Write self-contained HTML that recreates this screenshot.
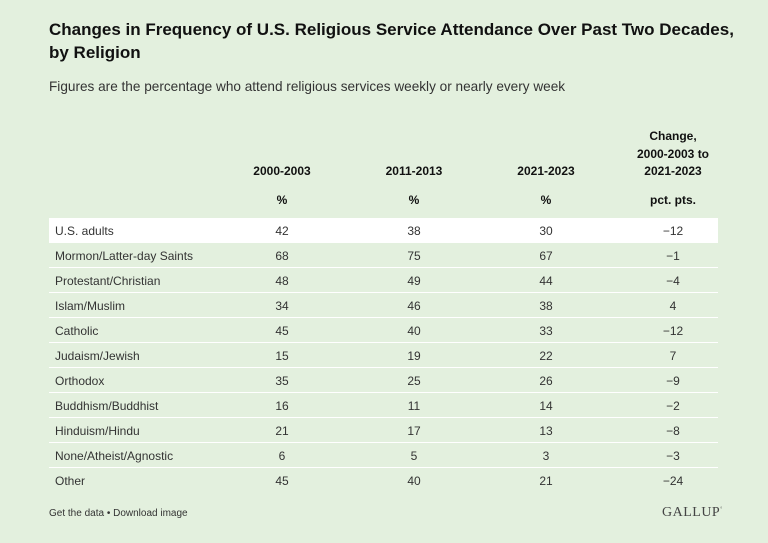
<!DOCTYPE html>
<html><head><style>
body{margin:0;width:768px;height:543px;background:#e3f0de;font-family:"Liberation Sans",sans-serif;color:#222;position:relative;overflow:hidden}
.t{position:absolute;left:49px;top:18px;font-size:17px;font-weight:bold;line-height:23px;width:715px;color:#111;letter-spacing:0px;white-space:nowrap}
.s{position:absolute;left:49px;top:79px;font-size:13.6px;color:#333}
.h{position:absolute;font-size:12px;font-weight:bold;text-align:center;line-height:17.5px;color:#111}
.row{position:absolute;left:49px;width:669px;height:24px;border-bottom:1.5px solid #fff;font-size:12px;color:#333}
.row span{position:absolute;top:6px;width:80px;text-align:center}
.row span.n{left:6px;text-align:left;width:200px}
.f{position:absolute;left:49px;top:508px;font-size:10px;color:#333}
.g{position:absolute;left:662px;top:505px;font-family:"Liberation Serif",serif;font-size:14px;color:#444;letter-spacing:0.5px}
</style></head><body>
<div class="t">Changes in Frequency of U.S. Religious Service Attendance Over Past Two Decades,<br>by Religion</div>
<div class="s">Figures are the percentage who attend religious services weekly or nearly every week</div>
<div class="h" style="left:232px;top:163px;width:100px">2000-2003</div>
<div class="h" style="left:364px;top:163px;width:100px">2011-2013</div>
<div class="h" style="left:496px;top:163px;width:100px">2021-2023</div>
<div class="h" style="left:613px;top:128px;width:120px">Change,<br>2000-2003 to<br>2021-2023</div>
<div class="h" style="left:232px;top:192px;width:100px">%</div>
<div class="h" style="left:364px;top:192px;width:100px">%</div>
<div class="h" style="left:496px;top:192px;width:100px">%</div>
<div class="h" style="left:613px;top:192px;width:120px">pct. pts.</div>
<div class="row" style="top:218px;background:#fff"><span class="n">U.S. adults</span><span style="left:193px">42</span><span style="left:325px">38</span><span style="left:457px">30</span><span style="left:584px">−12</span></div>
<div class="row" style="top:243px"><span class="n">Mormon/Latter-day Saints</span><span style="left:193px">68</span><span style="left:325px">75</span><span style="left:457px">67</span><span style="left:584px">−1</span></div>
<div class="row" style="top:268px"><span class="n">Protestant/Christian</span><span style="left:193px">48</span><span style="left:325px">49</span><span style="left:457px">44</span><span style="left:584px">−4</span></div>
<div class="row" style="top:293px"><span class="n">Islam/Muslim</span><span style="left:193px">34</span><span style="left:325px">46</span><span style="left:457px">38</span><span style="left:584px">4</span></div>
<div class="row" style="top:318px"><span class="n">Catholic</span><span style="left:193px">45</span><span style="left:325px">40</span><span style="left:457px">33</span><span style="left:584px">−12</span></div>
<div class="row" style="top:343px"><span class="n">Judaism/Jewish</span><span style="left:193px">15</span><span style="left:325px">19</span><span style="left:457px">22</span><span style="left:584px">7</span></div>
<div class="row" style="top:368px"><span class="n">Orthodox</span><span style="left:193px">35</span><span style="left:325px">25</span><span style="left:457px">26</span><span style="left:584px">−9</span></div>
<div class="row" style="top:393px"><span class="n">Buddhism/Buddhist</span><span style="left:193px">16</span><span style="left:325px">11</span><span style="left:457px">14</span><span style="left:584px">−2</span></div>
<div class="row" style="top:418px"><span class="n">Hinduism/Hindu</span><span style="left:193px">21</span><span style="left:325px">17</span><span style="left:457px">13</span><span style="left:584px">−8</span></div>
<div class="row" style="top:443px"><span class="n">None/Atheist/Agnostic</span><span style="left:193px">6</span><span style="left:325px">5</span><span style="left:457px">3</span><span style="left:584px">−3</span></div>
<div class="row" style="top:468px;border-bottom:none"><span class="n">Other</span><span style="left:193px">45</span><span style="left:325px">40</span><span style="left:457px">21</span><span style="left:584px">−24</span></div>
<div class="f">Get the data • Download image</div>
<div class="g">GALLUP<sup style="font-size:5px">°</sup></div>
</body></html>
